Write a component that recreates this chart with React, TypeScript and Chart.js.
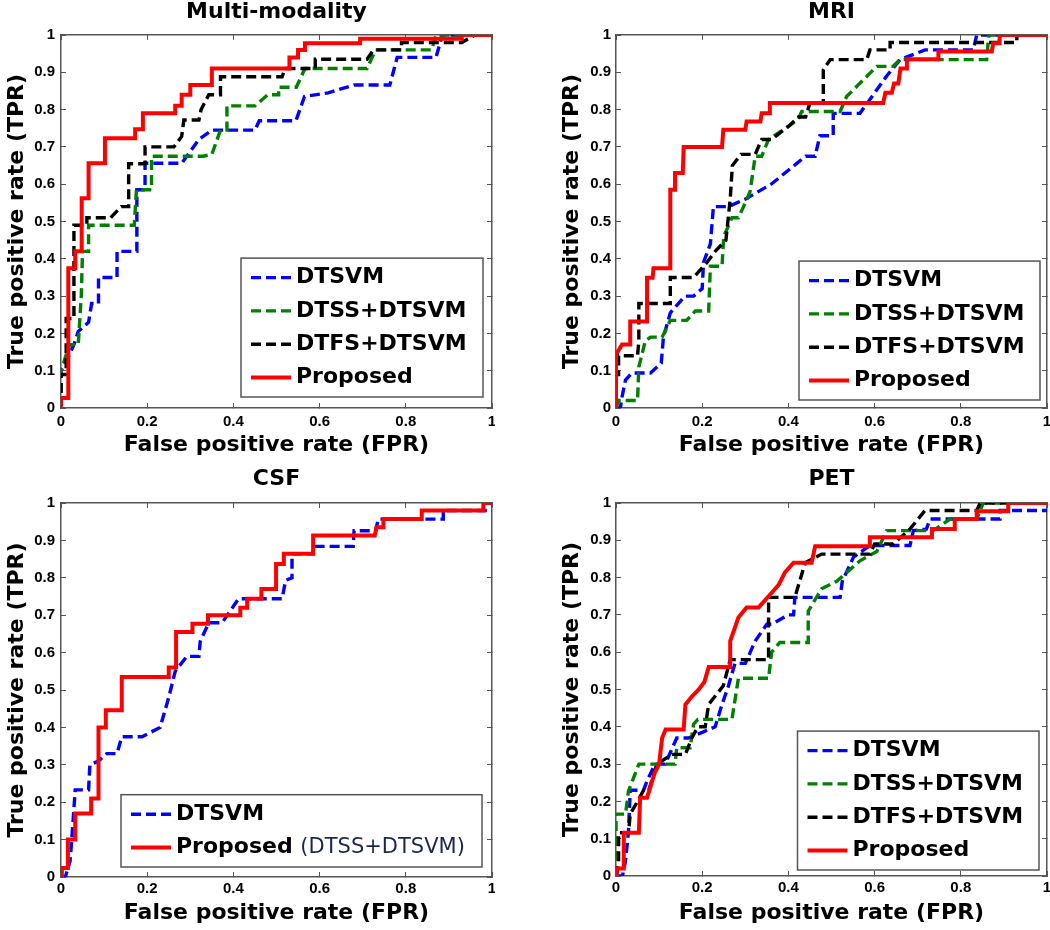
import React, { useEffect, useRef } from 'react';
import { Chart, registerables } from 'chart.js';

Chart.register(...registerables);

// ---------------- data ----------------
const xTickLabels = ['0', '0.2', '0.4', '0.6', '0.8', '1'];
const yTickLabels = ['0', '0.1', '0.2', '0.3', '0.4', '0.5', '0.6', '0.7', '0.8', '0.9', '1'];
const panelTitles = ['Multi-modality', 'MRI', 'CSF', 'PET'];
const seriesNames = ['DTSVM', 'DTSS+DTSVM', 'DTFS+DTSVM', 'Proposed'];
const csfProposedName = 'Proposed (DTSS+DTSVM)';
const xAxisTitle = 'False positive rate (FPR)';
const yAxisTitle = 'True positive rate (TPR)';

// Multi-modality
const mmDtsvmFpr = [0, 0, 0.01, 0.03, 0.04, 0.064, 0.071, 0.087, 0.087, 0.13, 0.13, 0.176, 0.176, 0.195, 0.195, 0.28, 0.32, 0.35, 0.45, 0.46, 0.545, 0.565, 0.62, 0.68, 0.763, 0.78, 0.87, 0.885, 1];
const mmDtsvmTpr = [0, 0.1, 0.12, 0.17, 0.205, 0.23, 0.28, 0.28, 0.35, 0.35, 0.42, 0.42, 0.585, 0.585, 0.656, 0.656, 0.72, 0.745, 0.745, 0.77, 0.77, 0.835, 0.845, 0.866, 0.866, 0.94, 0.94, 1, 1];
const mmDtssFpr = [0, 0, 0.02, 0.04, 0.047, 0.05, 0.064, 0.064, 0.17, 0.175, 0.21, 0.21, 0.33, 0.35, 0.37, 0.385, 0.385, 0.45, 0.48, 0.505, 0.505, 0.546, 0.566, 0.71, 0.73, 0.86, 0.87, 1];
const mmDtssTpr = [0, 0.1, 0.17, 0.17, 0.3, 0.42, 0.42, 0.49, 0.49, 0.585, 0.585, 0.675, 0.675, 0.68, 0.745, 0.745, 0.81, 0.81, 0.84, 0.84, 0.86, 0.86, 0.91, 0.91, 0.96, 0.96, 1, 1];
const mmDtfsFpr = [0, 0, 0.012, 0.012, 0.03, 0.03, 0.06, 0.06, 0.115, 0.14, 0.157, 0.157, 0.195, 0.195, 0.262, 0.28, 0.285, 0.32, 0.325, 0.343, 0.37, 0.37, 0.513, 0.52, 0.59, 0.59, 0.71, 0.725, 0.79, 0.79, 0.93, 0.96, 1];
const mmDtfsTpr = [0, 0.09, 0.09, 0.24, 0.24, 0.49, 0.49, 0.51, 0.51, 0.54, 0.54, 0.655, 0.655, 0.7, 0.7, 0.728, 0.772, 0.772, 0.8, 0.84, 0.84, 0.888, 0.888, 0.91, 0.91, 0.935, 0.935, 0.96, 0.96, 0.98, 0.98, 1, 1];
const mmPropFpr = [0, 0, 0.017, 0.017, 0.033, 0.033, 0.048, 0.048, 0.064, 0.064, 0.102, 0.102, 0.172, 0.172, 0.19, 0.19, 0.265, 0.265, 0.28, 0.28, 0.3, 0.3, 0.35, 0.35, 0.53, 0.53, 0.55, 0.55, 0.566, 0.566, 0.694, 0.694, 0.93, 0.93, 1];
const mmPropTpr = [0, 0.027, 0.027, 0.375, 0.375, 0.42, 0.42, 0.5625, 0.5625, 0.656, 0.656, 0.723, 0.723, 0.747, 0.747, 0.79, 0.79, 0.81, 0.81, 0.84, 0.84, 0.866, 0.866, 0.91, 0.91, 0.94, 0.94, 0.96, 0.96, 0.978, 0.978, 0.99, 0.99, 1, 1];

// MRI
const mriDtsvmFpr = [0, 0.01, 0.014, 0.022, 0.037, 0.08, 0.105, 0.11, 0.126, 0.16, 0.18, 0.2, 0.203, 0.219, 0.226, 0.261, 0.3, 0.36, 0.44, 0.462, 0.473, 0.504, 0.504, 0.566, 0.628, 0.659, 0.717, 0.829, 0.837, 1];
const mriDtsvmTpr = [0, 0, 0.03, 0.075, 0.094, 0.094, 0.12, 0.19, 0.255, 0.3, 0.3, 0.32, 0.39, 0.44, 0.54, 0.54, 0.56, 0.6, 0.675, 0.675, 0.73, 0.73, 0.79, 0.79, 0.89, 0.934, 0.96, 0.96, 1, 1];
const mriDtssFpr = [0, 0.006, 0.05, 0.053, 0.068, 0.08, 0.107, 0.126, 0.164, 0.184, 0.215, 0.219, 0.246, 0.25, 0.269, 0.284, 0.3, 0.311, 0.323, 0.338, 0.354, 0.4, 0.423, 0.431, 0.52, 0.535, 0.574, 0.605, 0.643, 0.659, 0.86, 0.865, 1];
const mriDtssTpr = [0, 0.02, 0.02, 0.11, 0.18, 0.19, 0.19, 0.235, 0.235, 0.26, 0.26, 0.38, 0.38, 0.46, 0.51, 0.51, 0.55, 0.58, 0.675, 0.675, 0.72, 0.755, 0.775, 0.795, 0.795, 0.835, 0.88, 0.916, 0.916, 0.934, 0.934, 1, 1];
const mriDtfsFpr = [0, 0, 0.006, 0.006, 0.05, 0.053, 0.053, 0.126, 0.126, 0.18, 0.211, 0.23, 0.255, 0.265, 0.27, 0.29, 0.323, 0.338, 0.361, 0.4, 0.423, 0.44, 0.45, 0.481, 0.481, 0.497, 0.582, 0.589, 0.636, 0.636, 0.93, 0.93, 1];
const mriDtfsTpr = [0, 0.09, 0.09, 0.14, 0.14, 0.18, 0.28, 0.28, 0.35, 0.35, 0.39, 0.42, 0.45, 0.56, 0.65, 0.68, 0.68, 0.72, 0.72, 0.755, 0.78, 0.78, 0.818, 0.818, 0.907, 0.934, 0.934, 0.96, 0.96, 0.98, 0.98, 1, 1];
const mriPropFpr = [0, 0, 0.014, 0.033, 0.033, 0.072, 0.072, 0.085, 0.087, 0.126, 0.126, 0.137, 0.137, 0.155, 0.157, 0.246, 0.249, 0.3, 0.303, 0.335, 0.338, 0.355, 0.357, 0.62, 0.625, 0.64, 0.645, 0.655, 0.66, 0.675, 0.675, 0.748, 0.748, 0.872, 0.875, 0.89, 0.89, 1];
const mriPropTpr = [0, 0.143, 0.17, 0.17, 0.232, 0.232, 0.349, 0.349, 0.375, 0.375, 0.585, 0.585, 0.63, 0.63, 0.7, 0.7, 0.746, 0.746, 0.768, 0.768, 0.79, 0.79, 0.818, 0.818, 0.845, 0.845, 0.87, 0.87, 0.91, 0.91, 0.935, 0.935, 0.956, 0.956, 0.978, 0.978, 1, 1];

// CSF
const csfDtsvmFpr = [0, 0.01, 0.021, 0.025, 0.033, 0.064, 0.067, 0.087, 0.106, 0.13, 0.141, 0.188, 0.23, 0.25, 0.265, 0.292, 0.32, 0.323, 0.343, 0.374, 0.412, 0.513, 0.521, 0.536, 0.536, 0.585, 0.585, 0.678, 0.68, 0.73, 0.736, 0.887, 0.887, 1];
const csfDtsvmTpr = [0, 0, 0.042, 0.1, 0.233, 0.233, 0.3, 0.31, 0.33, 0.33, 0.375, 0.375, 0.4, 0.48, 0.55, 0.59, 0.59, 0.63, 0.68, 0.68, 0.744, 0.744, 0.793, 0.8, 0.864, 0.864, 0.884, 0.884, 0.926, 0.926, 0.957, 0.957, 0.98, 0.98];
const csfPropFpr = [0, 0.002, 0.016, 0.016, 0.033, 0.033, 0.07, 0.07, 0.087, 0.087, 0.104, 0.104, 0.141, 0.141, 0.25, 0.25, 0.267, 0.267, 0.305, 0.305, 0.341, 0.341, 0.416, 0.416, 0.432, 0.432, 0.465, 0.465, 0.499, 0.499, 0.517, 0.517, 0.585, 0.585, 0.728, 0.732, 0.748, 0.748, 0.837, 0.837, 0.98, 0.98, 1];
const csfPropTpr = [0, 0.024, 0.024, 0.1, 0.1, 0.17, 0.17, 0.21, 0.21, 0.4, 0.4, 0.446, 0.446, 0.535, 0.535, 0.56, 0.56, 0.655, 0.655, 0.677, 0.677, 0.7, 0.7, 0.72, 0.72, 0.744, 0.744, 0.77, 0.77, 0.837, 0.837, 0.864, 0.864, 0.913, 0.913, 0.935, 0.935, 0.957, 0.957, 0.98, 0.98, 1, 1];

// PET
const petDtsvmFpr = [0, 0.015, 0.022, 0.029, 0.033, 0.064, 0.072, 0.091, 0.114, 0.141, 0.168, 0.2, 0.23, 0.246, 0.261, 0.276, 0.3, 0.323, 0.35, 0.361, 0.4, 0.412, 0.415, 0.52, 0.525, 0.551, 0.589, 0.682, 0.69, 0.72, 0.729, 0.891, 0.891, 1];
const petDtsvmTpr = [0, 0, 0.04, 0.12, 0.23, 0.23, 0.255, 0.3, 0.3, 0.37, 0.37, 0.385, 0.4, 0.46, 0.51, 0.57, 0.57, 0.63, 0.675, 0.675, 0.7, 0.7, 0.747, 0.747, 0.79, 0.855, 0.886, 0.886, 0.926, 0.93, 0.957, 0.957, 0.98, 0.98];
const petDtssFpr = [0, 0, 0.022, 0.029, 0.053, 0.137, 0.141, 0.172, 0.18, 0.19, 0.269, 0.284, 0.354, 0.361, 0.38, 0.446, 0.446, 0.477, 0.512, 0.566, 0.605, 0.628, 0.736, 0.775, 0.837, 0.852, 1];
const petDtssTpr = [0, 0.166, 0.166, 0.228, 0.3, 0.3, 0.344, 0.344, 0.407, 0.42, 0.42, 0.53, 0.53, 0.6, 0.626, 0.626, 0.71, 0.77, 0.79, 0.845, 0.87, 0.926, 0.926, 0.957, 0.957, 1, 1];
const petDtfsFpr = [0, 0.006, 0.006, 0.029, 0.033, 0.05, 0.064, 0.076, 0.095, 0.13, 0.161, 0.176, 0.19, 0.207, 0.215, 0.249, 0.265, 0.354, 0.354, 0.415, 0.439, 0.477, 0.589, 0.6, 0.643, 0.682, 0.698, 0.717, 0.837, 0.845, 1];
const petDtfsTpr = [0, 0.03, 0.116, 0.116, 0.166, 0.2, 0.23, 0.23, 0.3, 0.326, 0.326, 0.37, 0.4, 0.4, 0.46, 0.51, 0.58, 0.58, 0.747, 0.747, 0.84, 0.863, 0.863, 0.89, 0.89, 0.93, 0.953, 0.98, 0.98, 1, 1];
const petPropFpr = [0, 0.002, 0.018, 0.018, 0.053, 0.056, 0.072, 0.09, 0.1, 0.107, 0.115, 0.157, 0.161, 0.175, 0.192, 0.205, 0.215, 0.265, 0.265, 0.284, 0.303, 0.331, 0.354, 0.377, 0.392, 0.412, 0.454, 0.462, 0.589, 0.589, 0.733, 0.733, 0.786, 0.786, 0.837, 0.837, 0.91, 0.91, 1];
const petPropTpr = [0, 0.02, 0.02, 0.116, 0.116, 0.21, 0.21, 0.277, 0.3, 0.37, 0.393, 0.393, 0.46, 0.48, 0.5, 0.52, 0.56, 0.56, 0.63, 0.693, 0.72, 0.72, 0.75, 0.78, 0.814, 0.84, 0.84, 0.884, 0.884, 0.908, 0.908, 0.93, 0.93, 0.957, 0.957, 0.978, 0.978, 1, 1];

// ---------------- styles ----------------
const BLUE = '#0000ff';
const GREEN = '#008000';
const BLACK = '#000000';
const RED = '#ff0000';
const AXIS_GRAY = '#555555';
const DASH = [10, 5];

const BIG_FONT_FAMILY = '"DejaVu Sans", "Liberation Sans", Arial, sans-serif';
const TICK_FONT_FAMILY = '"Liberation Sans", Arial, sans-serif';

type Series = { label: string; fpr: number[]; tpr: number[]; color: string; dashed: boolean };

const series = (label: string, fpr: number[], tpr: number[], color: string, dashed: boolean): Series => ({ label, fpr, tpr, color, dashed });

const panels = [
  {
    title: panelTitles[0],
    series: [
      series(seriesNames[0], mmDtsvmFpr, mmDtsvmTpr, BLUE, true),
      series(seriesNames[1], mmDtssFpr, mmDtssTpr, GREEN, true),
      series(seriesNames[2], mmDtfsFpr, mmDtfsTpr, BLACK, true),
      series(seriesNames[3], mmPropFpr, mmPropTpr, RED, false),
    ],
  },
  {
    title: panelTitles[1],
    series: [
      series(seriesNames[0], mriDtsvmFpr, mriDtsvmTpr, BLUE, true),
      series(seriesNames[1], mriDtssFpr, mriDtssTpr, GREEN, true),
      series(seriesNames[2], mriDtfsFpr, mriDtfsTpr, BLACK, true),
      series(seriesNames[3], mriPropFpr, mriPropTpr, RED, false),
    ],
  },
  {
    title: panelTitles[2],
    series: [
      series(seriesNames[0], csfDtsvmFpr, csfDtsvmTpr, BLUE, true),
      series(csfProposedName, csfPropFpr, csfPropTpr, RED, false),
    ],
  },
  {
    title: panelTitles[3],
    series: [
      series(seriesNames[0], petDtsvmFpr, petDtsvmTpr, BLUE, true),
      series(seriesNames[1], petDtssFpr, petDtssTpr, GREEN, true),
      series(seriesNames[2], petDtfsFpr, petDtfsTpr, BLACK, true),
      series(seriesNames[3], petPropFpr, petPropTpr, RED, false),
    ],
  },
];

// layout of each panel's canvas (pixels)
const frames = [
  { left: 0, top: 0, width: 495, height: 465, titlePadTop: 1.5, titlePadBottom: 11.5, xHeight: 57, xTickPad: 10, xTitlePadBottom: 9, yTickPad: 11, yTitlePadTop: 6.5, legendWidth: 242, legendRight: 9, legendBottom: 11 },
  { left: 555, top: 0, width: 495, height: 465, titlePadTop: 1.5, titlePadBottom: 11.5, xHeight: 57, xTickPad: 10, xTitlePadBottom: 9, yTickPad: 10, yTitlePadTop: 6.5, legendWidth: 241, legendRight: 7, legendBottom: 8 },
  { left: 0, top: 465, width: 495, height: 465, titlePadTop: 3.5, titlePadBottom: 12.5, xHeight: 53, xTickPad: 8, xTitlePadBottom: 5.6, yTickPad: 11, yTitlePadTop: 6.5, legendWidth: 361, legendRight: 10, legendBottom: 10 },
  { left: 555, top: 465, width: 495, height: 465, titlePadTop: 3.5, titlePadBottom: 12.5, xHeight: 54, xTickPad: 8, xTitlePadBottom: 5.6, yTickPad: 10, yTitlePadTop: 6.5, legendWidth: 241.5, legendRight: 8, legendBottom: 6 },
];

// ---------------- legend plugin ----------------
const legendBoxPlugin = {
  id: 'legendBox',
  afterDraw(chart: any, _args: any, opts: any) {
    const ctx: CanvasRenderingContext2D = chart.ctx;
    const area = chart.chartArea;
    const datasets = chart.data.datasets;
    const padTop = 19.5;
    const rowH = 33.3;
    const w = opts.width;
    const h = padTop * 2 + (datasets.length - 1) * rowH;
    const right = area.right - opts.right;
    const bottom = area.bottom - opts.bottom;
    const left = right - w;
    const top = bottom - h;
    ctx.save();
    ctx.fillStyle = '#ffffff';
    ctx.fillRect(left, top, w, h);
    ctx.strokeStyle = AXIS_GRAY;
    ctx.lineWidth = 1.5;
    ctx.setLineDash([]);
    ctx.strokeRect(left, top, w, h);
    datasets.forEach((ds: any, i: number) => {
      const y = top + padTop + i * rowH;
      ctx.beginPath();
      ctx.setLineDash(ds.borderDash || []);
      ctx.lineWidth = ds.borderWidth;
      ctx.strokeStyle = ds.borderColor;
      ctx.lineCap = 'butt';
      ctx.moveTo(left + 10, y);
      ctx.lineTo(left + 50, y);
      ctx.stroke();
      ctx.setLineDash([]);
      const label: string = ds.label;
      const m = label.match(/^(.*?) (\(.*\))$/);
      const tx = left + 55;
      ctx.textBaseline = 'middle';
      ctx.textAlign = 'left';
      ctx.fillStyle = '#000000';
      ctx.font = `bold 22px ${BIG_FONT_FAMILY}`;
      if (m) {
        ctx.fillText(m[1], tx, y);
        const w1 = ctx.measureText(m[1] + ' ').width;
        ctx.font = `21px ${BIG_FONT_FAMILY}`;
        ctx.fillStyle = '#1a2652';
        ctx.fillText(m[2], tx + w1, y);
      } else {
        ctx.fillText(label, tx, y);
      }
    });
    ctx.restore();
  },
};

function buildConfig(panel: (typeof panels)[number], f: (typeof frames)[number]): any {
  const n = panel.series.length;
  const datasets = panel.series.map((s, i) => {
    const len = Math.min(s.fpr.length, s.tpr.length);
    const data = Array.from({ length: len }, (_, k) => ({ x: s.fpr[k], y: s.tpr[k] }));
    return {
      label: s.label,
      data,
      showLine: true,
      fill: false,
      borderColor: s.color,
      backgroundColor: s.color,
      borderWidth: s.dashed ? 3.4 : 4,
      borderDash: s.dashed ? DASH : [],
      borderCapStyle: 'butt',
      borderJoinStyle: 'miter',
      pointRadius: 0,
      pointHoverRadius: 0,
      tension: 0,
      order: n - 1 - i,
    };
  });

  const tickFont = { family: TICK_FONT_FAMILY, size: 15, weight: 'bold' };
  const bigFont = { family: BIG_FONT_FAMILY, size: 22, weight: 'bold', lineHeight: 1 };
  const grid = { drawOnChartArea: false, drawTicks: true, tickLength: -5, color: AXIS_GRAY, lineWidth: 1 };
  const border = { display: true, color: AXIS_GRAY, width: 1.5 };

  return {
    type: 'scatter',
    data: { datasets },
    plugins: [legendBoxPlugin],
    options: {
      responsive: false,
      animation: false,
      events: [],
      layout: { padding: { left: 0, right: 3, top: 0, bottom: 0 } },
      plugins: {
        legend: { display: false },
        tooltip: { enabled: false },
        title: {
          display: true,
          text: panel.title,
          fullSize: false,
          color: '#000000',
          font: bigFont,
          padding: { top: f.titlePadTop, bottom: f.titlePadBottom },
        },
        legendBox: { width: f.legendWidth, right: f.legendRight, bottom: f.legendBottom },
      },
      scales: {
        x: {
          type: 'linear',
          position: 'bottom',
          min: 0,
          max: 1,
          ticks: {
            stepSize: 0.2,
            autoSkip: false,
            maxRotation: 0,
            minRotation: 0,
            padding: f.xTickPad,
            color: '#000000',
            font: tickFont,
            callback: (_v: any, i: number) => xTickLabels[i],
          },
          grid,
          border,
          title: {
            display: true,
            text: xAxisTitle,
            color: '#000000',
            font: bigFont,
            padding: { top: 0, bottom: f.xTitlePadBottom },
          },
          afterFit: (s: any) => {
            s.height = f.xHeight;
            s.paddingLeft = 0;
            s.paddingRight = 0;
          },
        },
        y: {
          type: 'linear',
          position: 'left',
          min: 0,
          max: 1,
          ticks: {
            stepSize: 0.1,
            autoSkip: false,
            padding: f.yTickPad,
            color: '#000000',
            font: tickFont,
            callback: (_v: any, i: number) => yTickLabels[i],
          },
          grid,
          border,
          title: {
            display: true,
            text: yAxisTitle,
            color: '#000000',
            font: bigFont,
            padding: { top: f.yTitlePadTop, bottom: 0 },
          },
          afterFit: (s: any) => {
            s.width = 61;
            s.paddingTop = 0;
            s.paddingBottom = 0;
          },
        },
        x2: {
          type: 'linear',
          position: 'top',
          min: 0,
          max: 1,
          ticks: { display: false, stepSize: 0.2 },
          grid,
          border,
          afterFit: (s: any) => {
            s.height = 0;
            s.paddingLeft = 0;
            s.paddingRight = 0;
          },
        },
        y2: {
          type: 'linear',
          position: 'right',
          min: 0,
          max: 1,
          ticks: { display: false, stepSize: 0.1 },
          grid,
          border,
          afterFit: (s: any) => {
            s.width = 0;
            s.paddingTop = 0;
            s.paddingBottom = 0;
          },
        },
      },
    },
  };
}

function RocPanel({ index }: { index: number }) {
  const ref = useRef<HTMLCanvasElement>(null);
  const f = frames[index];
  useEffect(() => {
    if (!ref.current) return;
    const chart = new Chart(ref.current, buildConfig(panels[index], f));
    return () => chart.destroy();
  }, [index]);
  return (
    <canvas
      ref={ref}
      width={f.width}
      height={f.height}
      style={{ position: 'absolute', left: f.left, top: f.top, width: f.width, height: f.height }}
    />
  );
}

export default function App() {
  return (
    <div style={{ position: 'fixed', left: 0, top: 0, width: 1050, height: 930, background: '#ffffff', overflow: 'hidden' }}>
      {panels.map((_, i) => (
        <RocPanel key={i} index={i} />
      ))}
    </div>
  );
}
